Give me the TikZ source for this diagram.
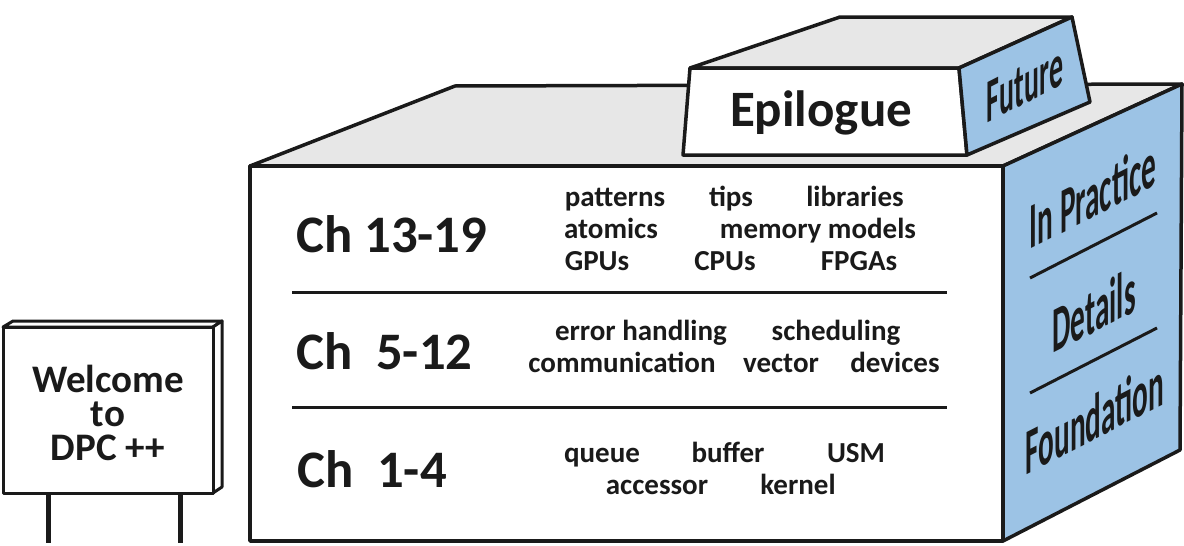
\documentclass[tikz,border=0pt]{standalone}
\usepackage{fontspec}
\setmainfont{Carlito}[BoldFont={Carlito Bold}]
\definecolor{sideblue}{HTML}{9CC3E5}
\definecolor{topgray}{HTML}{E7E7E7}
\definecolor{ink}{HTML}{1A1A1A}
\begin{document}
\begin{tikzpicture}[x=1pt,y=-1pt,
  outline/.style={draw=ink,line width=3.5pt,line join=round},
  big/.style={font=\fontsize{52.7}{56}\selectfont\bfseries,text=ink,inner sep=0pt,anchor=base west},
  small/.style={font=\fontsize{29}{32}\selectfont\bfseries,text=ink,inner sep=0pt,anchor=base},
  sign/.style={font=\fontsize{39}{35}\selectfont\bfseries,text=ink,inner sep=0pt,align=center,anchor=center},
  sidetext/.style={font=\fontsize{65}{70}\selectfont\bfseries,text=ink,inner sep=0pt,transform shape,cm={0.45,0.23,0,1,(0,0)}},
  divider/.style={draw=ink,line width=3pt}]
\useasboundingbox (0,0) rectangle (1184,546);
% ---- sign ----
\draw[draw=ink,line width=5pt] (48,493) -- (48,543);
\draw[draw=ink,line width=5pt] (180,493) -- (180,543);
\filldraw[fill=white,outline,line width=3pt] (3,327) -- (13,321) -- (222,321) -- (213,327) -- cycle;
\filldraw[fill=white,outline,line width=3pt] (213,327) -- (222,321) -- (222,487) -- (213,493) -- cycle;
\filldraw[fill=white,outline,line width=3pt] (3,327) rectangle (213,493);
\node[sign] (welcome) at (108,413) {Welcome\\[-1pt]to\\[-1pt]DPC ++};
% ---- main box ----
\filldraw[fill=topgray,outline] (250,166) -- (455,86) -- (1182,84) -- (1003,166) -- cycle;
% epilogue block
\filldraw[fill=topgray,outline] (690,68) -- (840,17) -- (1072,17) -- (959,68) -- cycle;
\filldraw[fill=white,outline] (690,68) -- (959,68) -- (967,155) -- (683,155) -- cycle;
\filldraw[fill=sideblue,outline] (959,68) -- (1072,17) -- (1090,102) -- (967,155) -- cycle;
\node[font=\fontsize{51}{56}\selectfont\bfseries,text=ink,inner sep=0pt,anchor=base] (epi) at (821,126) {Epilogue};
\node[sidetext,font=\fontsize{62}{66}\selectfont\bfseries] (fut) at (1025,84) {Future};
% front
\filldraw[fill=white,outline] (250,166) rectangle (1003,541);
\filldraw[fill=sideblue,outline] (1003,166) -- (1182,84) -- (1180,450) -- (1003,541) -- cycle;
% dividers
\coordinate (d1a) at (292,292); \coordinate (d1b) at (947,292);
\coordinate (d2a) at (292,407); \coordinate (d2b) at (947,407);
\draw[divider] (d1a) -- (d1b);
\draw[divider] (d2a) -- (d2b);
% chapter labels
\node[big] (c1) at (296,252) {Ch 13-19};
\node[big] (c2) at (296,369) {Ch\ \ 5-12};
\node[big] (c3) at (297,487) {Ch\ \ 1-4};
% topics
\node[small] (t1) at (615,206) {patterns};
\node[small] (t2) at (731,206) {tips};
\node[small] (t3) at (855,206) {libraries};
\node[small] (t4) at (611,238) {atomics};
\node[small] (t5) at (818,238) {memory models};
\node[small] (t6) at (597,270) {GPUs};
\node[small] (t7) at (725,270) {CPUs};
\node[small] (t8) at (859,270) {FPGAs};
\node[small] (t9) at (641,340) {error handling};
\node[small] (t10) at (836,340) {scheduling};
\node[small] (t11) at (622,372) {communication};
\node[small] (t12) at (781,372) {vector};
\node[small] (t13) at (895,372) {devices};
\node[small] (t14) at (602,462) {queue};
\node[small] (t15) at (728,462) {buffer};
\node[small] (t16) at (856,462) {USM};
\node[small] (t17) at (657,494) {accessor};
\node[small] (t18) at (798,494) {kernel};
% side labels
\node[sidetext] (s1) at (1093,195) {In Practice};
\node[sidetext] (s2) at (1094,310) {Details};
\node[sidetext] (s3) at (1095,417) {Foundation};
\coordinate (l1a) at (1030,278); \coordinate (l1b) at (1157,213);
\coordinate (l2a) at (1030,393); \coordinate (l2b) at (1157,328);
\draw[divider] (l1a) -- (l1b);
\draw[divider] (l2a) -- (l2b);
\end{tikzpicture}
\end{document}
